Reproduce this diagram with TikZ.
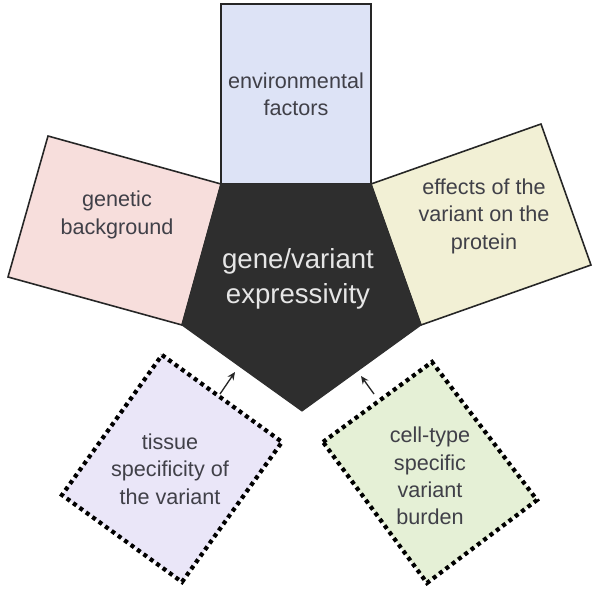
\documentclass[tikz,border=0pt]{standalone}
\usepackage{fontspec}
\setmainfont{Liberation Sans}
\usetikzlibrary{arrows.meta}
\definecolor{pent}{HTML}{2E2E2E}
\definecolor{cblue}{HTML}{DDE3F6}
\definecolor{cpink}{HTML}{F7DEDC}
\definecolor{cyel}{HTML}{F2F0D5}
\definecolor{cpur}{HTML}{EAE6F8}
\definecolor{cgrn}{HTML}{E5F0D6}
\definecolor{txt}{HTML}{404048}
\definecolor{ctxt}{HTML}{E6E6E6}
\begin{document}
\begin{tikzpicture}[x=0.02cm,y=-0.02cm,
  solidbox/.style={draw=black!85, line width=0.9pt, line join=miter},
  dotbox/.style={draw=black, line width=2.4pt, dash pattern=on 2.3pt off 2.2pt},
  lbl/.style={text=txt, font=\fontsize{12.3}{15.6}\selectfont, align=center, inner sep=0pt},
  ptr/.style={-{Stealth[length=4.5pt,width=4pt]}, line width=0.75pt, draw=black!85}]
\useasboundingbox (0,0) rectangle (600,600);
\fill[white] (0,0) rectangle (600,600);
% pentagon corners
\coordinate (TL) at (221,184);
\coordinate (TR) at (371,184);
\coordinate (R) at (421,325);
\coordinate (B) at (302,411);
\coordinate (L) at (182,325);
% boxes
\filldraw[solidbox, fill=cblue] (221,4) rectangle (371,184);
\filldraw[solidbox, fill=cpink] (TL) -- (48,136) -- (8,277) -- (L) -- cycle;
\filldraw[solidbox, fill=cyel] (TR) -- (541,124) -- (591,265) -- (R) -- cycle;
\filldraw[dotbox, fill=cpur] (162,355) -- (282,442) -- (182,582) -- (62,495) -- cycle;
\filldraw[dotbox, fill=cgrn] (323,442) -- (432,362) -- (537,500) -- (427,583) -- cycle;
% central pentagon
\filldraw[fill=pent, draw=pent, line width=0.6pt] (TL) -- (TR) -- (R) -- (B) -- (L) -- cycle;
% labels
\node[lbl] (env) at (296,94) {environmental\\factors};
\node[lbl] (gen) at (117,215) {genetic\\background};
\node[lbl] (eff) at (484,216) {effects of the\\variant on the\\protein};
\node[text=ctxt, font=\fontsize{15.7}{19.8}\selectfont, align=center, inner sep=0pt] (core) at (298,279) {gene/variant\\expressivity};
\node[lbl] (tis) at (170,469) {tissue\\specificity of\\the variant};
\node[lbl] (cell) at (430,476) {cell-type\\specific\\variant\\burden};
% arrows
\coordinate (a1s) at (220,394);
\coordinate (a1e) at (235,372);
\coordinate (a2s) at (374,394);
\coordinate (a2e) at (361,376);
\draw[ptr] (a1s) -- (a1e);
\draw[ptr] (a2s) -- (a2e);
\end{tikzpicture}
\end{document}
